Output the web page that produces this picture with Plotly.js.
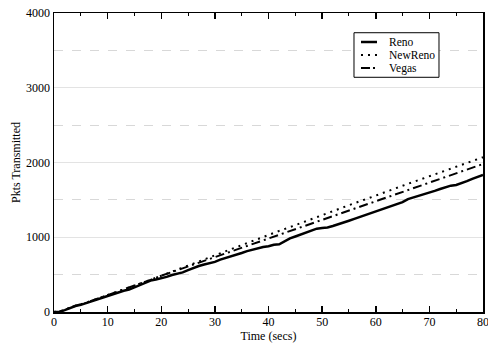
<!DOCTYPE html>
<html><head><meta charset="utf-8">
<script src="https://cdn.plot.ly/plotly-3.0.1.min.js"></script>
<style>html,body{margin:0;padding:0;background:#fff}</style>
</head><body><div id="chart" style="width:488px;height:344px"></div>
<script>
const renoT = [0,1,2,3,4,5,6,7,8,9,10,11,12,13,14,15,16,17,18,19,20,21,22,23,24,25,26,27,28,29,30,31,32,33,34,35,36,37,38,39,40,41,42,43,44,45,46,47,48,49,50,51,52,53,54,55,56,57,58,59,60,61,62,63,64,65,66,67,68,69,70,71,72,73,74,75,76,77,78,79,80];
const renoY = [0,0,25,55,80,95,115,140,165,190,215,240,262,285,300,330,355,385,420,435,450,470,495,510,530,560,590,615,635,650,670,700,720,745,765,790,815,835,860,870,880,900,905,945,985,1010,1035,1060,1085,1115,1125,1130,1150,1170,1195,1220,1245,1270,1295,1320,1345,1370,1395,1420,1445,1470,1510,1530,1550,1575,1600,1620,1645,1670,1690,1700,1720,1750,1780,1805,1833];
const newRenoT = [0,1,2,4,6,8,10,12,14,16,18,20,22,24,26,28,30,32,34,36,38,40,42,44,46,48,50,52,54,56,58,60,62,64,66,68,70,72,74,76,78,80];
const newRenoY = [0,5,30,85,125,175,225,272,320,370,430,485,540,600,655,710,765,815,870,925,975,1030,1085,1135,1190,1245,1295,1350,1400,1455,1505,1560,1610,1665,1715,1765,1815,1865,1915,1965,2015,2070];
const vegasT = [0,1,2,4,6,8,10,12,14,16,18,20,25,30,35,40,45,50,55,60,65,70,75,80];
const vegasY = [0,5,30,85,125,175,225,272,320,370,430,485,610,735,860,985,1110,1235,1360,1485,1610,1735,1860,1980];
const seriesNames = ['Reno', 'NewReno', 'Vegas'];

const FAM = '"Liberation Serif", "Times New Roman", serif';
const styles = [
  {color: '#000', width: 2.5},
  {color: '#000', width: 2, dash: '2px,5px'},
  {color: '#000', width: 2, dash: '9px,4px,2px,4px'}
];
const legendStyles = [
  {color: '#000', width: 2.5},
  {color: '#000', width: 2, dash: '2px,5px'},
  {color: '#000', width: 2, dash: '9px,3px,2px,3px'}
];
const traces = [
  {x: renoT, y: renoY, name: seriesNames[0], mode: 'lines', line: styles[0]},
  {x: newRenoT, y: newRenoY, name: seriesNames[1], mode: 'lines', line: styles[1]},
  {x: vegasT, y: vegasY, name: seriesNames[2], mode: 'lines', line: styles[2]}
];

// custom legend (paper coords)
const legY = [0.903, 0.8595, 0.816];
const shapes = [{type: 'rect', xref: 'paper', yref: 'paper', x0: 0.6993, x1: 0.8974, y0: 0.785, y1: 0.934,
                 line: {color: '#000', width: 1}, fillcolor: '#fff', layer: 'above'}];
const annotations = [];
seriesNames.forEach((n, i) => {
  shapes.push({type: 'line', xref: 'paper', yref: 'paper', x0: 0.7156, x1: 0.7529, y0: legY[i], y1: legY[i],
               line: legendStyles[i], layer: 'above'});
  annotations.push({xref: 'paper', yref: 'paper', x: 0.7786, y: legY[i], xanchor: 'left', yanchor: 'middle',
                    text: n, showarrow: false, borderpad: 0,
                    font: {family: FAM, size: 11.5, color: '#000'}});
});

const layout = {
  width: 488, height: 344,
  margin: {l: 54, r: 5, t: 13, b: 32},
  paper_bgcolor: '#fff', plot_bgcolor: '#fff',
  font: {family: FAM, color: '#000', size: 12},
  showlegend: false,
  shapes: shapes,
  annotations: annotations,
  xaxis: {range: [0, 80], dtick: 10, tick0: 0, showgrid: false, zeroline: false,
          showline: true, linecolor: '#000', linewidth: 1.5, mirror: 'allticks',
          ticks: 'inside', ticklen: 6, tickcolor: '#000', tickwidth: 1.5,
          ticklabeloverflow: 'allow', ticklabelstandoff: -2,
          minor: {dtick: 5, ticks: 'inside', ticklen: 3, tickcolor: '#000', tickwidth: 1},
          tickfont: {family: FAM, size: 12, color: '#000'},
          title: {text: 'Time (secs)', standoff: 3, font: {family: FAM, size: 12, color: '#000'}}},
  yaxis: {range: [0, 4000], dtick: 1000, tick0: 0, zeroline: false,
          showgrid: true, gridcolor: '#e3e3e3', gridwidth: 1,
          showline: true, linecolor: '#000', linewidth: 1.5, mirror: true,
          ticks: '',
          minor: {dtick: 500, showgrid: true, gridcolor: '#d8d8d8', griddash: 'dash', gridwidth: 1, ticks: ''},
          tickfont: {family: FAM, size: 12, color: '#000'},
          title: {text: 'Pkts Transmitted', standoff: 3, font: {family: FAM, size: 12, color: '#000'}}}
};
Plotly.newPlot('chart', traces, layout, {displayModeBar: false, staticPlot: true});
</script></body></html>
